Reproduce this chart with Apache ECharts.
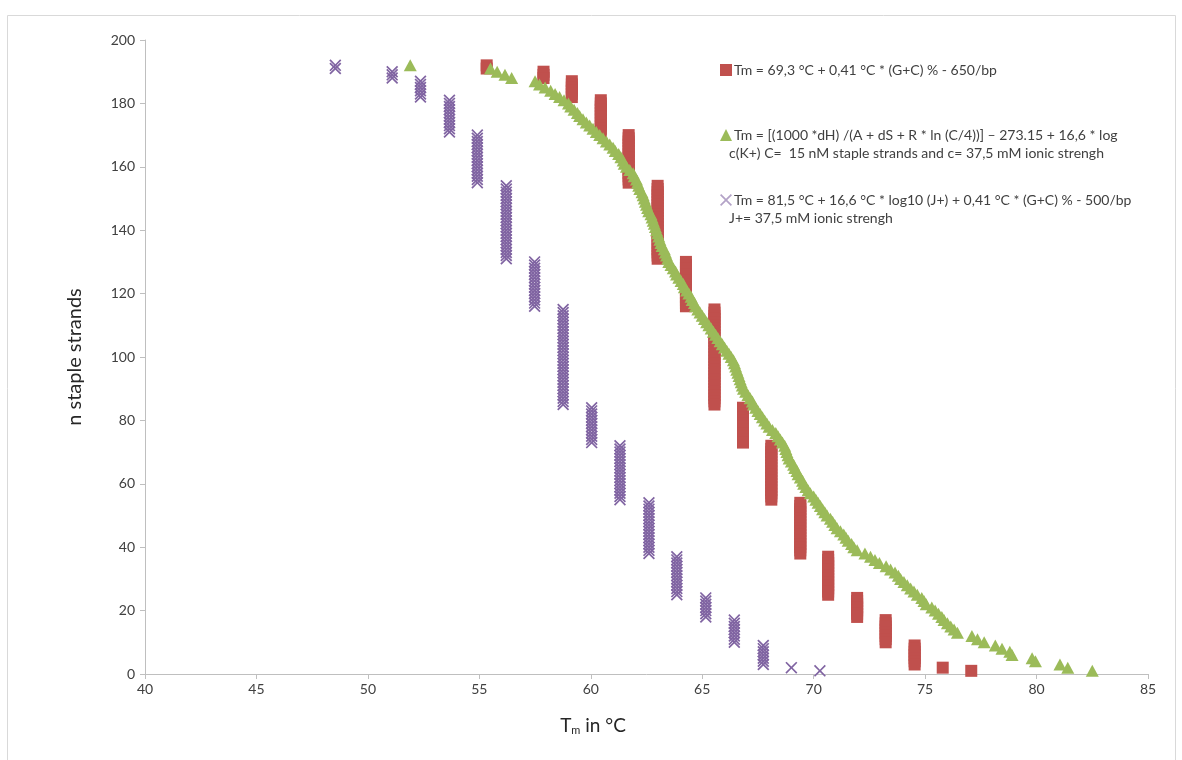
<!DOCTYPE html>
<html>
<head>
<meta charset="utf-8">
<script src="https://cdn.jsdelivr.net/npm/echarts@6/dist/echarts.min.js"></script>
<style>
html, body { margin: 0; padding: 0; background: #fff; }
#chart { width: 1182px; height: 760px; }
</style>
</head>
<body>
<div id="chart"></div>
<script>
// Tm steps (°C) of the two GC%-based formulas
const saltTm = [55.33, 57.88, 59.15, 60.45, 61.7, 63.0, 64.27, 65.55, 66.83, 68.1, 69.4, 70.65, 71.95, 73.23, 74.53, 75.79, 77.07];
const log10Tm = [48.54, 51.09, 52.36, 53.66, 54.91, 56.21, 57.48, 58.76, 60.04, 61.31, 62.61, 63.86, 65.16, 66.44, 67.74, 69.0, 70.28];
// strand rank range (n) sharing each Tm step
const stepTop = [192, 190, 187, 181, 170, 154, 130, 115, 84, 72, 54, 37, 24, 17, 9, 2, 1];
const stepBottom = [191, 188, 182, 171, 155, 131, 116, 85, 73, 55, 38, 25, 18, 10, 3, 2, 1];

// nearest-neighbour Tm per strand, n = 192 down to 1
const nnTm = [
  51.9, 55.5, 55.8, 56.15, 56.45, 57.5, 57.7, 57.95, 58.2, 58.4,
  58.6, 58.8, 59.0, 59.1, 59.25, 59.4, 59.5, 59.65, 59.8, 59.95,
  60.1, 60.25, 60.4, 60.55, 60.7, 60.85, 61.0, 61.1, 61.25, 61.35,
  61.45, 61.5, 61.6, 61.75, 61.9, 61.95, 62.05, 62.1, 62.15, 62.2,
  62.3, 62.35, 62.4, 62.45, 62.5, 62.55, 62.6, 62.7, 62.75, 62.8,
  62.85, 62.9, 62.95, 63.0, 63.05, 63.1, 63.15, 63.2, 63.3, 63.35,
  63.4, 63.45, 63.5, 63.6, 63.7, 63.8, 63.85, 63.95, 64.05, 64.15,
  64.2, 64.3, 64.4, 64.5, 64.55, 64.65, 64.7, 64.8, 64.9, 65.0,
  65.1, 65.2, 65.3, 65.4, 65.5, 65.6, 65.7, 65.8, 65.9, 66.0,
  66.1, 66.2, 66.3, 66.4, 66.45, 66.5, 66.55, 66.6, 66.65, 66.7,
  66.75, 66.8, 66.85, 66.95, 67.05, 67.15, 67.25, 67.3, 67.4, 67.5,
  67.6, 67.7, 67.8, 67.9, 68.0, 68.15, 68.3, 68.4, 68.5, 68.6,
  68.7, 68.75, 68.8, 68.85, 68.9, 69.0, 69.1, 69.15, 69.25, 69.3,
  69.4, 69.5, 69.55, 69.65, 69.75, 69.85, 70.0, 70.1, 70.2, 70.3,
  70.4, 70.5, 70.6, 70.75, 70.85, 70.95, 71.05, 71.2, 71.35, 71.45,
  71.55, 71.7, 71.8, 71.95, 72.3, 72.55, 72.75, 72.95, 73.25, 73.45,
  73.65, 73.8, 73.9, 74.05, 74.2, 74.35, 74.5, 74.65, 74.85, 74.95,
  75.05, 75.3, 75.45, 75.6, 75.75, 75.85, 76.0, 76.15, 76.3, 76.45,
  77.1, 77.35, 77.65, 78.15, 78.45, 78.8, 78.9, 79.8, 79.95, 81.05,
  81.4, 82.5
];

const xTicks = [40, 85, 5];
const yTicks = [0, 200, 20];

const seriesNames = [
  "Tm = 69,3 °C + 0,41 °C * (G+C) % - 650/bp",
  "Tm = [(1000 *dH) /(A + dS + R * ln (C/4))] – 273.15 + 16,6 * log",
  "Tm = 81,5 °C + 16,6 °C * log10 (J+) + 0,41 °C * (G+C) % - 500/bp"
];
const nameSecondLines = [
  "c(K+) C=  15 nM staple strands and c= 37,5 mM ionic strengh",
  "J+= 37,5 mM ionic strengh"
];

function stackPoints(tms) {
  let pts = [];
  tms.forEach((t, i) => {
    for (let n = stepTop[i]; n >= stepBottom[i]; n--) pts.push([t, n]);
  });
  return pts;
}

const nnPoints = nnTm.map((t, i) => [t, nnTm.length - i]);

const crossPath = 'path://M0,1 L1,0 L5,4 L9,0 L10,1 L6,5 L10,9 L9,10 L5,6 L1,10 L0,9 L4,5 Z';
const font = 'Lato, "Liberation Sans", sans-serif';

let chart = echarts.init(document.getElementById('chart'));
chart.setOption({
  animation: false,
  textStyle: { fontFamily: font },
  grid: { left: 145, right: 34, top: 40, bottom: 86 },
  legend: {
    orient: 'vertical',
    left: 720,
    top: 62,
    padding: 0,
    itemWidth: 12,
    itemHeight: 12,
    itemGap: 49,
    textStyle: { fontSize: 14, color: '#404040', lineHeight: 16, fontFamily: font, padding: [0, 0, 0, -3] },
    data: [
      { name: seriesNames[0], icon: 'rect' },
      { name: seriesNames[1], icon: 'triangle' },
      { name: seriesNames[2], icon: crossPath, itemStyle: { color: '#b3a2c7' } }
    ]
  },
  graphic: [
    { type: 'rect', shape: { x: 7.5, y: 15.5, width: 1168, height: 780 }, style: { fill: 'none', stroke: '#d9d9d9', lineWidth: 1 }, silent: true },
    { type: 'text', left: 729, top: 146, style: { text: nameSecondLines[0], fontSize: 14, fill: '#404040', fontFamily: font } },
    { type: 'text', left: 729, top: 211, style: { text: nameSecondLines[1], fontSize: 14, fill: '#404040', fontFamily: font } }
  ],
  xAxis: {
    type: 'value',
    min: xTicks[0], max: xTicks[1], interval: xTicks[2],
    splitLine: { show: false },
    axisLine: { lineStyle: { color: '#bfbfbf' } },
    axisTick: { length: 5, lineStyle: { color: '#bfbfbf' } },
    axisLabel: { fontSize: 14, color: '#404040', margin: 8 },
    name: '{a|T}{s|m}{a| in °C}',
    nameLocation: 'middle',
    nameGap: 42,
    nameTextStyle: {
      padding: [0, 107, 0, 0],
      rich: {
        a: { fontSize: 19, color: '#262626', fontFamily: font },
        s: { fontSize: 11, color: '#262626', fontFamily: font, verticalAlign: 'bottom', padding: [9, 0, 0, 0] }
      }
    }
  },
  yAxis: {
    type: 'value',
    min: yTicks[0], max: yTicks[1], interval: yTicks[2],
    splitLine: { show: false },
    axisLine: { show: true, lineStyle: { color: '#bfbfbf' } },
    axisTick: { show: true, length: 5, lineStyle: { color: '#bfbfbf' } },
    axisLabel: { fontSize: 14, color: '#404040', margin: 10 },
    name: 'n staple strands',
    nameLocation: 'middle',
    nameGap: 60,
    nameTextStyle: { fontSize: 20, color: '#262626', fontFamily: font }
  },
  series: [
    {
      name: seriesNames[0],
      type: 'scatter',
      symbol: 'rect',
      symbolSize: 12,
      itemStyle: { color: '#c0504d', opacity: 1 },
      data: stackPoints(saltTm)
    },
    {
      name: seriesNames[1],
      type: 'scatter',
      symbol: 'triangle',
      symbolSize: [13, 12],
      itemStyle: { color: '#9bbb59', opacity: 1 },
      data: nnPoints
    },
    {
      name: seriesNames[2],
      type: 'scatter',
      symbol: crossPath,
      symbolSize: 12,
      itemStyle: { color: '#8064a2', opacity: 1 },
      data: stackPoints(log10Tm)
    }
  ]
});
</script>
</body>
</html>
